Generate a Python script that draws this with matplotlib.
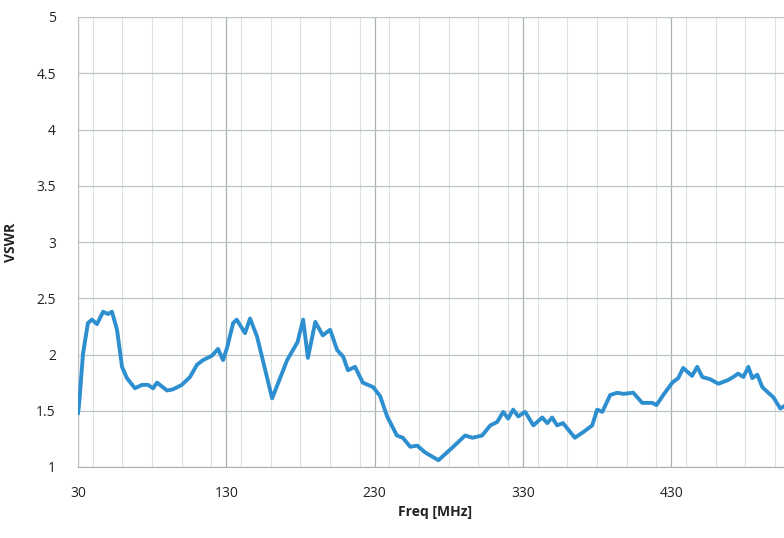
import matplotlib
matplotlib.use("Agg")
import matplotlib.pyplot as plt
from matplotlib.ticker import MultipleLocator, FixedLocator

# VSWR vs frequency
freq = [30, 30.7, 33.4, 36.7, 39.4, 42.8, 46.9, 50.2, 52.9, 56.3, 59.7, 63, 68.4, 73.2,
        77.2, 80.6, 83.3, 90, 94, 100, 105.5, 110.3, 114.3, 120.4, 124.4, 127.8, 130.5,
        134.6, 137, 142.6, 146, 150.7, 160.9, 171, 178, 181.8, 185, 190, 195, 200, 204.7,
        208.8, 212, 216.8, 222, 229, 233.7, 238.4, 245, 249, 254, 258.7, 264, 273, 283,
        291, 296, 302.5, 308, 312.6, 316.7, 320, 323.4, 326.8, 331.5, 337, 343, 346.4,
        349.7, 353, 357, 365, 370.6, 376.7, 380, 383.5, 388.8, 393.6, 397.6, 404.4,
        410.4, 417.2, 420, 424.6, 430.7, 434.7, 438, 444, 447.5, 450.9, 456.3, 461.7,
        467.8, 471.8, 475, 478.6, 482, 484.6, 488, 491.4, 495.4, 498.8, 503.5, 506]
vswr = [1.48, 1.55, 2.01, 2.28, 2.31, 2.27, 2.38, 2.36, 2.38, 2.22, 1.89, 1.79, 1.70, 1.73,
        1.73, 1.70, 1.75, 1.68, 1.69, 1.73, 1.80, 1.91, 1.95, 1.99, 2.05, 1.95, 2.06,
        2.28, 2.31, 2.19, 2.32, 2.16, 1.61, 1.95, 2.11, 2.31, 1.97, 2.29, 2.17, 2.22, 2.04,
        1.98, 1.86, 1.89, 1.75, 1.71, 1.63, 1.45, 1.28, 1.26, 1.18, 1.19, 1.13, 1.06, 1.18,
        1.28, 1.26, 1.28, 1.37, 1.40, 1.49, 1.43, 1.51, 1.45, 1.49, 1.37, 1.44, 1.39,
        1.44, 1.37, 1.39, 1.26, 1.31, 1.37, 1.51, 1.49, 1.64, 1.66, 1.65, 1.66,
        1.57, 1.57, 1.55, 1.64, 1.75, 1.79, 1.88, 1.81, 1.89, 1.80, 1.78, 1.74,
        1.77, 1.80, 1.83, 1.80, 1.89, 1.79, 1.82, 1.71, 1.66, 1.62, 1.52, 1.54]

x_ticks = [30, 130, 230, 330, 430]
y_ticks = [1, 1.5, 2, 2.5, 3, 3.5, 4, 4.5, 5]
y_labels = ["1", "1.5", "2", "2.5", "3", "3.5", "4", "4.5", "5"]

plt.rcParams['font.family'] = ['Open Sans', 'DejaVu Sans']

fig = plt.figure(figsize=(7.84, 5.38), dpi=100)
ax = fig.add_axes([78 / 784, 71 / 538, 1 - 78 / 784, 450 / 538])

ax.plot(freq, vswr, color="#2e8fd0", lw=2.8, solid_joinstyle="round", zorder=3)

ax.set_xlim(30, 506)
ax.set_ylim(1, 5)
ax.xaxis.set_major_locator(FixedLocator(x_ticks))
ax.xaxis.set_minor_locator(MultipleLocator(20))
ax.set_yticks(y_ticks)
ax.set_yticklabels(y_labels)

ax.grid(True, which="major", axis="x", color="#a8b2ae", lw=0.9)
ax.grid(True, which="minor", axis="x", color="#dde1de", lw=0.8)
ax.grid(True, which="major", axis="y", color="#b9c3c9", lw=0.9)
ax.set_axisbelow(True)

for s in ["top", "right"]:
    ax.spines[s].set_visible(False)
ax.spines["left"].set_color("#b9c3c9")
ax.spines["bottom"].set_color("#a8b2ae")

ax.tick_params(which="both", length=0, labelsize=10, colors="#222222")
ax.tick_params(axis="x", pad=14)
ax.tick_params(axis="y", pad=16)

ax.set_xlabel("Freq [MHz]", fontsize=10, fontweight="bold", color="#222222")
ax.xaxis.set_label_coords((435 - 78) / (784 - 78), -38 / 450)
ax.set_ylabel("VSWR", fontsize=10, fontweight="bold", color="#222222")
ax.yaxis.set_label_coords(-60 / (784 - 78), 0.5)

fig.savefig("out.png", dpi=100)
